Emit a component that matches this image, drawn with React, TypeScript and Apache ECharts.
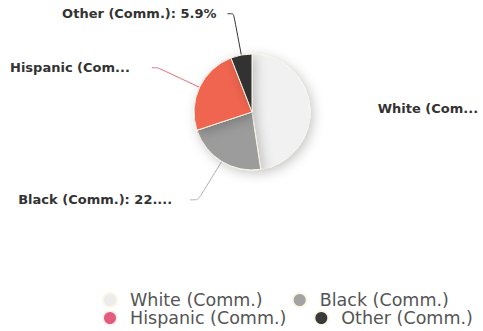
import React, { useEffect, useRef } from "react";
import * as echarts from "echarts";

const categories = ["White (Comm.)", "Black (Comm.)", "Hispanic (Comm.)", "Other (Comm.)"];
const shares = [47.6, 22.3, 24.2, 5.9];
const sliceColors = ["#f1f1f1", "#9c9c9c", "#f0654f", "#333333"];
const legendColors = ["#ececec", "#a3a3a3", "#e55a80", "#3a3a3a"];
const lineColors = ["rgba(0,0,0,0)", "#b0b0b0", "#e56a7c", "#333333"];
// label tuning per slice: [length, length2, distance, truncate width]
const labelLens = [40, 17, 11, 114];
const labelLens2 = [45, 8, 18, 158];
const labelLens3 = [46, 6, 22, 126];
const labelLens4 = [42, 6, 11, 0];
const labelTune = [labelLens, labelLens2, labelLens3, labelLens4];

export default function App() {
  const ref = useRef<HTMLDivElement>(null);
  useEffect(() => {
    if (!ref.current) return;
    const chart = echarts.init(ref.current, undefined, { renderer: "svg" });
    const font = "DejaVu Sans";
    const data = categories.map((name, i) => {
      const [len, len2, dist, w] = labelTune[i];
      const label: any = {
        distanceToLabelLine: dist,
      };
      if (w > 0) {
        label.width = w;
        label.overflow = "truncate";
        label.ellipsis = "...";
      }
      return {
        name,
        value: shares[i],
        itemStyle: { color: sliceColors[i] },
        label,
        labelLine: { length: len, length2: len2, lineStyle: { color: lineColors[i], width: 1 } },
      };
    });
    const mkLegend = (names: string[], left: number, top: number, gap: number) => ({
      left,
      top,
      orient: "horizontal",
      icon: "circle",
      itemWidth: 30,
      itemHeight: 14,
      itemGap: gap,
      textStyle: { fontFamily: font, fontSize: 17.5, color: "#555" },
      data: names.map((n) => ({ name: n, itemStyle: { color: legendColors[categories.indexOf(n)] } })),
    });
    chart.setOption({
      animation: false,
      backgroundColor: "#ffffff",
      legend: [
        mkLegend([categories[0], categories[1]], 97, 286, 29),
        mkLegend([categories[2], categories[3]], 97, 304, 27),
      ],
      series: [
        {
          type: "pie",
          center: [252, 112],
          radius: 58,
          startAngle: 90,
          clockwise: true,
          avoidLabelOverlap: false,
          itemStyle: {
            borderColor: "#fbf6e6",
            borderWidth: 1,
            shadowBlur: 12,
            shadowColor: "rgba(0,0,0,0.22)",
            shadowOffsetX: 3,
            shadowOffsetY: 3,
          },
          label: {
            show: true,
            formatter: "{b}: {d}%",
            fontFamily: font,
            fontSize: 13,
            fontWeight: "bold",
            color: "#333",
          },
          labelLine: { show: true, smooth: 0.2 },
          labelLayout: (p: any) => (p.dataIndex === 0 ? { dy: 4 } : {}),
          emphasis: { disabled: true },
          data,
        },
      ],
    });
    return () => chart.dispose();
  }, []);
  return (
    <div
      ref={ref}
      style={{ position: "fixed", left: 0, top: 0, width: 483, height: 331 }}
    />
  );
}
